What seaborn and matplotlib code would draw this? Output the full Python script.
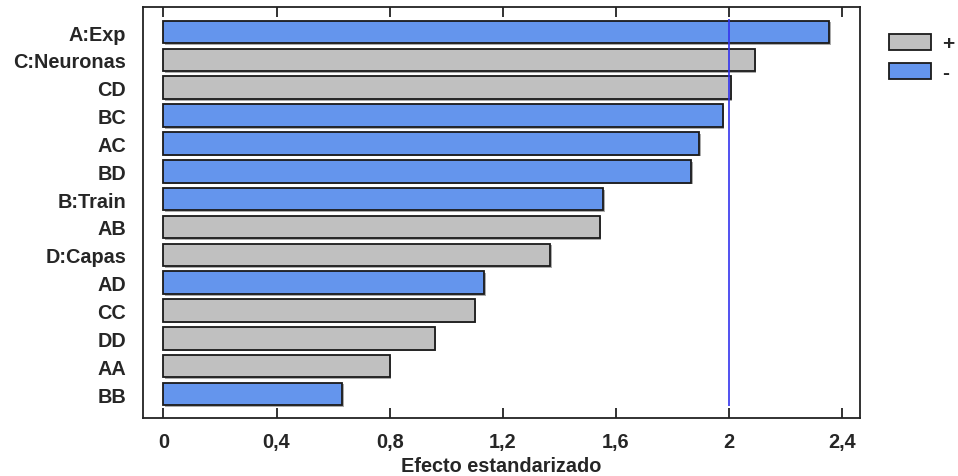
import matplotlib
matplotlib.use("Agg")
import matplotlib.pyplot as plt
import matplotlib.patheffects as pe
import seaborn as sns
import pandas as pd
from matplotlib.patches import Patch

# Standardized effects (Pareto chart), sorted by magnitude
terms = ["A:Exp", "C:Neuronas", "CD", "BC", "AC", "BD", "B:Train", "AB",
         "D:Capas", "AD", "CC", "DD", "AA", "BB"]
effects = [2.353, 2.090, 2.006, 1.977, 1.894, 1.866, 1.554, 1.542,
           1.367, 1.135, 1.100, 0.959, 0.800, 0.632]
signs = ["-", "+", "+", "-", "-", "-", "-", "+",
         "+", "-", "+", "+", "+", "-"]
critical_value = 2.0
xticks = [0, 0.4, 0.8, 1.2, 1.6, 2.0, 2.4]
xtick_labels = ["0", "0,4", "0,8", "1,2", "1,6", "2", "2,4"]

df = pd.DataFrame({"Término": terms, "Efecto": effects, "Signo": signs})

sns.set_theme(style="white")
plt.rcParams["font.family"] = ["Liberation Sans", "DejaVu Sans"]
plt.rcParams["font.weight"] = "bold"

palette = {"+": "#C0C0C0", "-": "#6495ED"}
FS = 14.3

fig = plt.figure(figsize=(9.58, 4.77), dpi=100)
ax = fig.add_axes([0.149, 0.1216, 0.749, 0.8616])

sns.barplot(data=df, x="Efecto", y="Término", hue="Signo", palette=palette,
            order=terms, hue_order=["+", "-"], dodge=False, width=0.81,
            saturation=1, edgecolor="#1a1a1a", linewidth=1.3, legend=False,
            ax=ax, orient="h")

# soft drop shadow under each bar
for p in ax.patches:
    p.set_path_effects([pe.SimplePatchShadow(offset=(1.2, -1.2),
                                             shadow_rgbFace="#888888", alpha=0.7),
                        pe.Normal()])

ax.vlines(critical_value, -0.47, 13.43, color="#3333ee", linewidth=1.2, zorder=3)

ax.set_xlim(-0.073, 2.464)
ax.set_ylim(13.86, -0.9)
ax.set_xticks(xticks)
ax.set_xticklabels(xtick_labels, fontsize=FS, fontweight="bold")
ax.set_ylabel("")
ax.set_xlabel("Efecto estandarizado", fontsize=FS, fontweight="bold", labelpad=4)
for lbl in ax.get_yticklabels():
    lbl.set_fontsize(FS)
    lbl.set_fontweight("bold")

ax.tick_params(axis="x", which="both", direction="in", length=7, width=1.3,
               top=True, bottom=True, color="#222222", pad=10)
ax.tick_params(axis="y", length=0, pad=12)

for sp in ax.spines.values():
    sp.set_visible(True)
    sp.set_color("#222222")
    sp.set_linewidth(1.3)

handles = [Patch(facecolor=palette["+"], edgecolor="#1a1a1a", linewidth=1.3, label="+"),
           Patch(facecolor=palette["-"], edgecolor="#1a1a1a", linewidth=1.3, label="-")]
leg = fig.legend(handles=handles, loc="upper left", bbox_to_anchor=(0.928, 0.927),
                 frameon=False, handlelength=2.0, handleheight=0.83, handletextpad=0.55,
                 labelspacing=0.45, prop={"size": 15, "weight": "bold"},
                 borderaxespad=0, borderpad=0)

fig.savefig("out.png", dpi=100)
